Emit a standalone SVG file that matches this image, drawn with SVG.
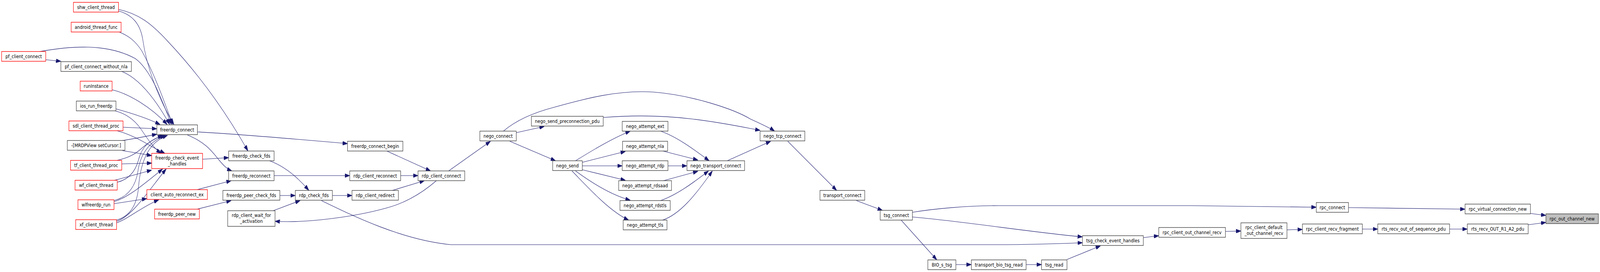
<svg xmlns="http://www.w3.org/2000/svg" width="4968" height="697" viewBox="0 0 4968 697" preserveAspectRatio="none">
<style>
:root{width:100vw;height:100vh}
rect{fill:#fff;stroke:#404040;stroke-width:1.4}
.r rect{stroke:#ff0000}
.f rect{fill:#bfbfbf}
text{font-family:"DejaVu Sans","Liberation Sans",sans-serif;font-size:13px;fill:#000;text-anchor:middle}
#edges path{fill:none;stroke:#191970;stroke-width:1.1}
</style>
<defs>
<marker id="a" markerWidth="15" markerHeight="10" refX="15" refY="5" orient="auto" markerUnits="userSpaceOnUse"><path d="M0,0 L15,5 L0,10 z" fill="#191970" stroke="#191970" stroke-width="1"/></marker>
</defs>
<rect x="0" y="0" width="4968" height="697" style="fill:#fff;stroke:none"/>
<g id="edges">
<path d="M368,24 C430,35 470,60 520,105 C600,175 690,270 770,387" marker-end="url(#a)"/>
<path d="M368,28 C410,38 435,60 443,100 C455,170 490,250 540,319" marker-end="url(#a)"/>
<path d="M370,82 C400,92 420,105 440,130 C480,190 510,260 536,319" marker-end="url(#a)"/>
<path d="M123,132 C220,118 330,110 420,150 C470,180 505,260 532,319" marker-end="url(#a)"/>
<path d="M142,153 L189,157" marker-end="url(#a)"/>
<path d="M378,183 C430,200 480,250 527,319" marker-end="url(#a)"/>
<path d="M348,230 C400,240 470,275 519,319" marker-end="url(#a)"/>
<path d="M360,279 C400,288 450,300 497,319" marker-end="url(#a)"/>
<path d="M357,284 C395,292 420,310 437,330 C455,352 475,378 500,393" marker-end="url(#a)"/>
<path d="M382,326 L487,330" marker-end="url(#a)"/>
<path d="M363,335 C400,343 440,360 470,375 C490,384 500,388 512,393" marker-end="url(#a)"/>
<path d="M380,360 C420,355 450,350 487,344" marker-end="url(#a)"/>
<path d="M380,386 C410,390 440,394 471,399" marker-end="url(#a)"/>
<path d="M378,420 L471,418" marker-end="url(#a)"/>
<path d="M363,411 C400,404 420,395 440,380 C460,365 480,355 505,347" marker-end="url(#a)"/>
<path d="M355,462 C390,455 430,445 471,436" marker-end="url(#a)"/>
<path d="M364,467 C400,460 420,440 430,410 C440,375 470,355 510,347" marker-end="url(#a)"/>
<path d="M354,514 C395,505 420,480 428,440 C436,390 470,360 514,347" marker-end="url(#a)"/>
<path d="M354,517 C400,505 450,470 505,433" marker-end="url(#a)"/>
<path d="M354,522 L456,509" marker-end="url(#a)"/>
<path d="M362,564 C400,555 425,530 430,480 C438,400 470,362 520,347" marker-end="url(#a)"/>
<path d="M362,567 C410,555 460,490 516,433" marker-end="url(#a)"/>
<path d="M362,571 C400,560 440,530 493,512" marker-end="url(#a)"/>
<path d="M613,338 C700,342 900,355 1079,368" marker-end="url(#a)"/>
<path d="M582,346 C640,365 660,390 680,410 C695,425 705,433 720,438" marker-end="url(#a)"/>
<path d="M629,408 L710,404" marker-end="url(#a)"/>
<path d="M612,486 L718,463" marker-end="url(#a)"/>
<path d="M612,536 L718,514" marker-end="url(#a)"/>
<path d="M837,412 C880,425 920,450 959,488" marker-end="url(#a)"/>
<path d="M851,450 L1086,450" marker-end="url(#a)"/>
<path d="M869,501 L917,501" marker-end="url(#a)"/>
<path d="M848,540 L932,514" marker-end="url(#a)"/>
<path d="M1032,501 L1093,501" marker-end="url(#a)"/>
<path d="M998,514 C1100,555 1250,615 1400,627 L3100,627 C3200,627 3300,624 3361,622" marker-end="url(#a)"/>
<path d="M1201,387 L1337,438" marker-end="url(#a)"/>
<path d="M1244,450 L1298,450" marker-end="url(#a)"/>
<path d="M1218,488 L1318,463" marker-end="url(#a)"/>
<path d="M1355,463 C1310,495 1260,520 1200,533 C1100,556 950,572 854,567" marker-end="url(#a)"/>
<path d="M1393,438 L1523,362" marker-end="url(#a)"/>
<path d="M1603,340 L1690,324" marker-end="url(#a)"/>
<path d="M1583,362 L1725,412" marker-end="url(#a)"/>
<path d="M1563,336 C1600,310 1650,290 1720,275 C1820,252 1920,230 2030,236 C2150,244 2280,280 2330,305 C2370,320 2395,330 2405,336" marker-end="url(#a)"/>
<path d="M1873,301 C1950,296 2050,295 2150,305 C2250,315 2320,328 2360,334" marker-end="url(#a)"/>
<path d="M1787,412 C1840,385 1900,355 1957,336" marker-end="url(#a)"/>
<path d="M1808,416 L1942,388" marker-end="url(#a)"/>
<path d="M1808,425 L1932,425" marker-end="url(#a)"/>
<path d="M1808,435 L1942,462" marker-end="url(#a)"/>
<path d="M1787,438 C1840,470 1900,500 1957,513" marker-end="url(#a)"/>
<path d="M1776,438 C1820,475 1890,540 1952,564" marker-end="url(#a)"/>
<path d="M2051,336 C2100,350 2150,380 2202,412" marker-end="url(#a)"/>
<path d="M2058,387 L2167,410" marker-end="url(#a)"/>
<path d="M2074,425 L2133,425" marker-end="url(#a)"/>
<path d="M2060,463 L2167,439" marker-end="url(#a)"/>
<path d="M2051,514 C2100,500 2150,470 2200,438" marker-end="url(#a)"/>
<path d="M2057,564 C2110,550 2160,500 2212,438" marker-end="url(#a)"/>
<path d="M2258,412 L2393,362" marker-end="url(#a)"/>
<path d="M2446,362 L2598,488" marker-end="url(#a)"/>
<path d="M2659,514 L2740,539" marker-end="url(#a)"/>
<path d="M2798,564 L2909,666" marker-end="url(#a)"/>
<path d="M2833,544 C2900,535 3000,527 3100,527 L3700,527 C3900,528 4000,530 4087,531" marker-end="url(#a)"/>
<path d="M2833,556 C3000,568 3200,595 3361,607" marker-end="url(#a)"/>
<path d="M2968,678 L3016,678" marker-end="url(#a)"/>
<path d="M3186,678 L3234,678" marker-end="url(#a)"/>
<path d="M3313,665 L3417,630" marker-end="url(#a)"/>
<path d="M3550,609 L3598,604" marker-end="url(#a)"/>
<path d="M3805,593 L3853,592" marker-end="url(#a)"/>
<path d="M3996,589 L4044,588" marker-end="url(#a)"/>
<path d="M4230,587 L4278,587" marker-end="url(#a)"/>
<path d="M4501,587 L4556,587" marker-end="url(#a)"/>
<path d="M4745,576 L4800,570" marker-end="url(#a)"/>
<path d="M4752,547 L4800,552" marker-end="url(#a)"/>
<path d="M4187,532 L4549,536" marker-end="url(#a)"/>
</g>
<g id="shw_client_thread" class="r"><rect x="228" y="6" width="140" height="25"/><text x="298" y="23">shw_client_thread</text></g>
<g id="android_thread_func" class="r"><rect x="221" y="57" width="155" height="25"/><text x="298.5" y="74">android_thread_func</text></g>
<g id="pf_client_connect" class="r"><rect x="5" y="132" width="137" height="25"/><text x="73.5" y="149">pf_client_connect</text></g>
<g id="pf_client_connect_without_nla"><rect x="189" y="158" width="219" height="25"/><text x="298.5" y="175">pf_client_connect_without_nla</text></g>
<g id="runInstance" class="r"><rect x="249" y="208" width="99" height="25"/><text x="298.5" y="225">runInstance</text></g>
<g id="ios_run_freerdp"><rect x="237" y="259" width="123" height="25"/><text x="298.5" y="276">ios_run_freerdp</text></g>
<g id="sdl_client_thread_proc" class="r"><rect x="214" y="310" width="168" height="25"/><text x="298" y="327">sdl_client_thread_proc</text></g>
<g id="MRDPView_setCursor"><rect x="209" y="360" width="179" height="25"/><text x="298.5" y="377">-[MRDPView setCursor:]</text></g>
<g id="tf_client_thread_proc" class="r"><rect x="219" y="411" width="159" height="25"/><text x="298.5" y="428">tf_client_thread_proc</text></g>
<g id="wf_client_thread" class="r"><rect x="233" y="462" width="131" height="25"/><text x="298.5" y="479">wf_client_thread</text></g>
<g id="wlfreerdp_run" class="r"><rect x="242" y="512" width="112" height="25"/><text x="298" y="529">wlfreerdp_run</text></g>
<g id="xf_client_thread" class="r"><rect x="235" y="563" width="127" height="25"/><text x="298.5" y="580">xf_client_thread</text></g>
<g id="freerdp_connect"><rect x="487" y="320" width="126" height="25"/><text x="550" y="337">freerdp_connect</text></g>
<g id="freerdp_check_event_handles" class="r"><rect x="471" y="393" width="158" height="39"/><text x="550" y="409">freerdp_check_event</text><text x="550" y="424">_handles</text></g>
<g id="client_auto_reconnect_ex" class="r"><rect x="456" y="486" width="188" height="25"/><text x="550" y="503">client_auto_reconnect_ex</text></g>
<g id="freerdp_peer_new" class="r"><rect x="480" y="536" width="139" height="25"/><text x="549.5" y="553">freerdp_peer_new</text></g>
<g id="freerdp_check_fds"><rect x="710" y="387" width="141" height="25"/><text x="780.5" y="404">freerdp_check_fds</text></g>
<g id="freerdp_reconnect"><rect x="710" y="438" width="141" height="25"/><text x="780.5" y="455">freerdp_reconnect</text></g>
<g id="freerdp_peer_check_fds"><rect x="692" y="488" width="177" height="25"/><text x="780.5" y="505">freerdp_peer_check_fds</text></g>
<g id="rdp_client_wait_for_activation"><rect x="707" y="540" width="147" height="40"/><text x="780.5" y="556">rdp_client_wait_for</text><text x="780.5" y="571">_activation</text></g>
<g id="freerdp_connect_begin"><rect x="1079" y="362" width="172" height="25"/><text x="1165" y="379">freerdp_connect_begin</text></g>
<g id="rdp_client_reconnect"><rect x="1086" y="438" width="158" height="25"/><text x="1165" y="455">rdp_client_reconnect</text></g>
<g id="rdp_check_fds"><rect x="917" y="488" width="115" height="25"/><text x="974.5" y="505">rdp_check_fds</text></g>
<g id="rdp_client_redirect"><rect x="1093" y="488" width="144" height="25"/><text x="1165" y="505">rdp_client_redirect</text></g>
<g id="rdp_client_connect"><rect x="1298" y="438" width="145" height="25"/><text x="1370.5" y="455">rdp_client_connect</text></g>
<g id="nego_connect"><rect x="1490" y="336" width="113" height="25"/><text x="1546.5" y="353">nego_connect</text></g>
<g id="nego_send_preconnection_pdu"><rect x="1650" y="298" width="223" height="25"/><text x="1761.5" y="315">nego_send_preconnection_pdu</text></g>
<g id="nego_send"><rect x="1716" y="412" width="92" height="25"/><text x="1762" y="429">nego_send</text></g>
<g id="nego_attempt_ext"><rect x="1932" y="311" width="142" height="25"/><text x="2003" y="328">nego_attempt_ext</text></g>
<g id="nego_attempt_nla"><rect x="1933" y="362" width="140" height="25"/><text x="2003" y="379">nego_attempt_nla</text></g>
<g id="nego_attempt_rdp"><rect x="1932" y="412" width="142" height="25"/><text x="2003" y="429">nego_attempt_rdp</text></g>
<g id="nego_attempt_rdsaad"><rect x="1921" y="463" width="164" height="25"/><text x="2003" y="480">nego_attempt_rdsaad</text></g>
<g id="nego_attempt_rdstls"><rect x="1925" y="514" width="156" height="25"/><text x="2003" y="531">nego_attempt_rdstls</text></g>
<g id="nego_attempt_tls"><rect x="1935" y="564" width="136" height="25"/><text x="2003" y="581">nego_attempt_tls</text></g>
<g id="nego_transport_connect"><rect x="2133" y="412" width="179" height="25"/><text x="2222.5" y="429">nego_transport_connect</text></g>
<g id="nego_tcp_connect"><rect x="2360" y="336" width="139" height="25"/><text x="2429.5" y="353">nego_tcp_connect</text></g>
<g id="transport_connect"><rect x="2546" y="488" width="139" height="25"/><text x="2615.5" y="505">transport_connect</text></g>
<g id="tsg_connect"><rect x="2733" y="539" width="100" height="25"/><text x="2783" y="556">tsg_connect</text></g>
<g id="BIO_s_tsg"><rect x="2881" y="666" width="87" height="25"/><text x="2924.5" y="683">BIO_s_tsg</text></g>
<g id="transport_bio_tsg_read"><rect x="3016" y="666" width="170" height="25"/><text x="3101" y="683">transport_bio_tsg_read</text></g>
<g id="tsg_read"><rect x="3234" y="666" width="79" height="25"/><text x="3273.5" y="683">tsg_read</text></g>
<g id="tsg_check_event_handles"><rect x="3361" y="604" width="189" height="25"/><text x="3455.5" y="621">tsg_check_event_handles</text></g>
<g id="rpc_client_out_channel_recv"><rect x="3598" y="583" width="207" height="25"/><text x="3701.5" y="600">rpc_client_out_channel_recv</text></g>
<g id="rpc_client_default_out_channel_recv"><rect x="3853" y="571" width="143" height="40"/><text x="3924.5" y="587">rpc_client_default</text><text x="3924.5" y="602">_out_channel_recv</text></g>
<g id="rpc_client_recv_fragment"><rect x="4044" y="574" width="186" height="25"/><text x="4137" y="591">rpc_client_recv_fragment</text></g>
<g id="rts_recv_out_of_sequence_pdu"><rect x="4278" y="574" width="223" height="25"/><text x="4389.5" y="591">rts_recv_out_of_sequence_pdu</text></g>
<g id="rpc_connect"><rect x="4087" y="519" width="100" height="25"/><text x="4137" y="536">rpc_connect</text></g>
<g id="rpc_virtual_connection_new"><rect x="4549" y="523" width="203" height="25"/><text x="4650.5" y="540">rpc_virtual_connection_new</text></g>
<g id="rts_recv_OUT_R1_A2_pdu"><rect x="4556" y="574" width="189" height="25"/><text x="4650.5" y="591">rts_recv_OUT_R1_A2_pdu</text></g>
<g id="rpc_out_channel_new" class="f"><rect x="4800" y="548" width="163" height="25"/><text x="4881.5" y="565">rpc_out_channel_new</text></g>
</svg>
